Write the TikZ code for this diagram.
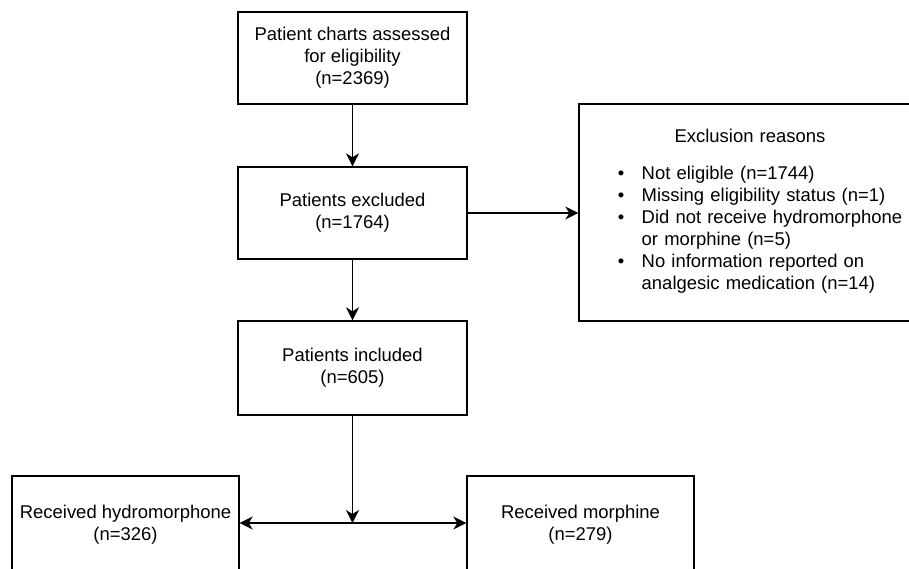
\documentclass[tikz,border=0pt]{standalone}
\usepackage{fontspec}
\setmainfont{Liberation Sans}
\usetikzlibrary{arrows.meta,positioning}

\begin{document}
\begin{tikzpicture}[box/.style={draw, line width=0.8pt, minimum width=4.58cm, minimum height=1.84cm, align=center, font=\fontsize{10.5}{12.5}\selectfont},
  >={Stealth[length=2.6mm,width=2.6mm,inset=0.8mm]}, line width=0.8pt]
\useasboundingbox (0cm,0cm) rectangle (18.18cm,-11.36cm);
\node[box] (charts) at (7.05cm,-1.16cm) {Patient charts assessed\\for eligibility\\(n=2369)};
\node[box] (excluded) at (7.05cm,-4.26cm) {Patients excluded\\(n=1764)};
\node[box, minimum width=6.84cm, minimum height=4.34cm, text width=6.5cm] (reasons) at (15.0cm,-4.25cm) {Exclusion reasons\\[11pt]
  \hspace*{0.4cm}\begin{tabular}{@{}l@{\hspace{0.35cm}}l@{}}
  \textbullet & Not eligible (n=1744)\\
  \textbullet & Missing eligibility status (n=1)\\
  \textbullet & Did not receive hydromorphone\\
              & or morphine (n=5)\\
  \textbullet & No information reported on\\
              & analgesic medication (n=14)
  \end{tabular}};
\node[box, minimum height=1.88cm] (included) at (7.05cm,-7.36cm) {Patients included\\(n=605)};
\node[box, minimum width=4.54cm, minimum height=1.96cm] (hydro) at (2.51cm,-10.5cm) {Received hydromorphone\\(n=326)};
\node[box, minimum width=4.54cm, minimum height=1.96cm] (morph) at (11.61cm,-10.5cm) {Received morphine\\(n=279)};
\coordinate (split) at (7.05cm,-10.46cm);
\draw[->] (charts) -- (excluded);
\draw[->] (excluded.east) -- (excluded.east -| reasons.west);
\draw[->] (excluded) -- (included);
\draw[->] (included) -- (split);
\draw[<->] (hydro.east |- split) -- (morph.west |- split);
\end{tikzpicture}
\end{document}
